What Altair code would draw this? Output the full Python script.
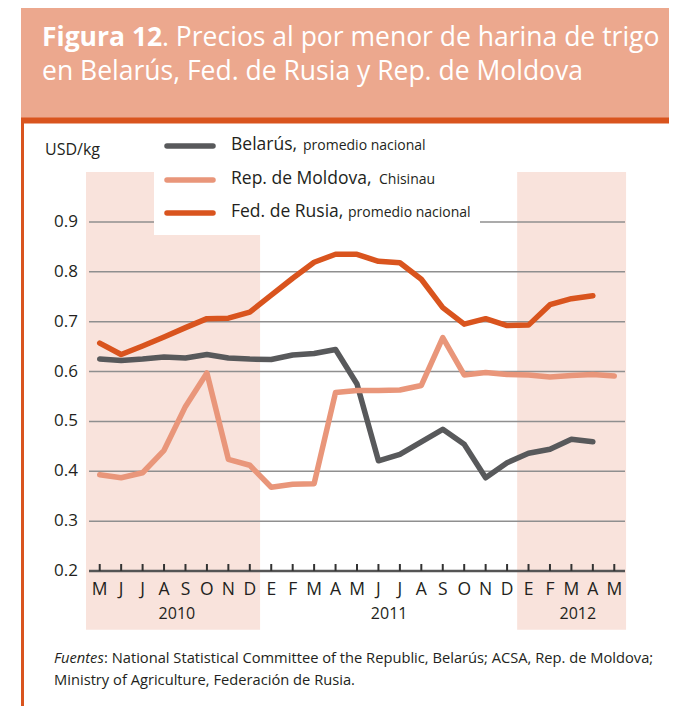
import altair as alt
import pandas as pd

FONT = "Open Sans"

months = ["M", "J", "J", "A", "S", "O", "N", "D", "E", "F", "M", "A", "M",
          "J", "J", "A", "S", "O", "N", "D", "E", "F", "M", "A", "M"]
belarus = [0.625, 0.622, 0.625, 0.629, 0.627, 0.634, 0.627, 0.625, 0.624, 0.633, 0.636, 0.644, 0.575,
           0.421, 0.434, 0.459, 0.484, 0.454, 0.387, 0.417, 0.436, 0.444, 0.464, 0.459, None]
moldova = [0.393, 0.387, 0.397, 0.442, 0.530, 0.597, 0.424, 0.412, 0.368, 0.374, 0.375, 0.558, 0.562,
           0.562, 0.563, 0.572, 0.668, 0.593, 0.598, 0.594, 0.593, 0.589, 0.592, 0.594, 0.591]
russia = [0.657, 0.634, 0.651, 0.669, 0.688, 0.706, 0.707, 0.719, 0.753, 0.787, 0.819, 0.835, 0.835,
          0.821, 0.818, 0.785, 0.728, 0.695, 0.706, 0.692, 0.693, 0.734, 0.746, 0.752, None]

series_names = ["Belarús", "Rep. de Moldova", "Fed. de Rusia"]
series_sub = ["promedio nacional", "Chisinau", "promedio nacional"]
series_colors = ["#58595b", "#e9967a", "#d9541e"]

years = ["2010", "2011", "2012"]
year_centers = [3.6, 13.5, 22.3]
band_start = [-0.64, 19.47]
band_end = [7.48, 24.55]
band_bottom = 0.082
band_top = 1.0
grid_values = [0.3, 0.4, 0.5, 0.6, 0.7, 0.8, 0.9]
y_labels = [0.2, 0.3, 0.4, 0.5, 0.6, 0.7, 0.8, 0.9]

rows = []
for name, vals in zip(series_names, [belarus, moldova, russia]):
    for i, v in enumerate(vals):
        if v is not None:
            rows.append({"i": i, "serie": name, "v": v})
df = pd.DataFrame(rows)

W, H = 536, 399
xs = alt.Scale(domain=[-0.5, 24.5], nice=False, zero=False)
ys = alt.Scale(domain=[0.2, 1.0], nice=False, zero=False)
one = pd.DataFrame({"a": [0]})
TXT = "#231f20"

# decorations: header, frame
header = alt.Chart(one).mark_rect(color="#eca88e").encode(
    x=alt.value(-68), x2=alt.value(592), y=alt.value(-170), y2=alt.value(-54))
strip = alt.Chart(one).mark_rect(color="#d9541e").encode(
    x=alt.value(-68), x2=alt.value(585), y=alt.value(-54.5), y2=alt.value(-48.5))
left_border = alt.Chart(one).mark_rect(color="#d9541e").encode(
    x=alt.value(-68), x2=alt.value(-65), y=alt.value(-49), y2=alt.value(540))
right_border = alt.Chart(one).mark_rect(color="#d9541e").encode(
    x=alt.value(582), x2=alt.value(585), y=alt.value(-49), y2=alt.value(540))

TS = 26.5
title1a = alt.Chart(one).mark_text(text="Figura 12", font=FONT, fontSize=TS, fontWeight="bold",
                                   color="white", align="left", baseline="alphabetic").encode(
    x=alt.value(-47), y=alt.value(-126))
title1b = alt.Chart(one).mark_text(text=". Precios al por menor de harina de trigo", font=FONT, fontSize=TS,
                                   color="white", align="left", baseline="alphabetic").encode(
    x=alt.value(73), y=alt.value(-126))
title2 = alt.Chart(one).mark_text(text="en Belarús, Fed. de Rusia y Rep. de Moldova", font=FONT, fontSize=TS,
                                  color="white", align="left", baseline="alphabetic").encode(
    x=alt.value(-47), y=alt.value(-92))

# shaded year bands
bands = alt.Chart(pd.DataFrame({"s": band_start, "e": band_end,
                                "b": [band_bottom] * 2, "t": [band_top] * 2})).mark_rect(
    color="#f9e3dc", clip=False).encode(
    x=alt.X("s:Q", scale=xs, axis=None), x2="e:Q",
    y=alt.Y("b:Q", scale=ys, axis=None), y2="t:Q")

grid = alt.Chart(pd.DataFrame({"v": grid_values})).mark_rule(color="#8f8f8f", strokeWidth=1.5).encode(
    y=alt.Y("v:Q", scale=ys, axis=None))

ylab = alt.Chart(pd.DataFrame({"v": y_labels, "t": [f"{v:.1f}" for v in y_labels]})).mark_text(
    font=FONT, fontSize=17, color=TXT, align="right", baseline="middle").encode(
    x=alt.value(-11), y=alt.Y("v:Q", scale=ys, axis=None), text="t:N")

axis_line = alt.Chart(pd.DataFrame({"v": [0.2]})).mark_rule(color="#555555", strokeWidth=2.5).encode(
    y=alt.Y("v:Q", scale=ys, axis=None))

mdf = pd.DataFrame({"i": list(range(len(months))), "m": months,
                    "y0": [0.2] * len(months), "y1": [0.214] * len(months)})
ticks = alt.Chart(mdf).mark_rule(color="#333333", strokeWidth=2).encode(
    x=alt.X("i:Q", scale=xs, axis=None), y=alt.Y("y0:Q", scale=ys, axis=None), y2="y1:Q")
month_labels = alt.Chart(mdf).mark_text(font=FONT, fontSize=17.5, color=TXT, baseline="middle").encode(
    x=alt.X("i:Q", scale=xs, axis=None), y=alt.value(418), text="m:N")
year_labels = alt.Chart(pd.DataFrame({"c": year_centers, "t": years})).mark_text(
    font=FONT, fontSize=16, color=TXT, baseline="middle").encode(
    x=alt.X("c:Q", scale=xs, axis=None), y=alt.value(442), text="t:N")

legend_box = alt.Chart(one).mark_rect(color="white").encode(
    x=alt.value(65), x2=alt.value(391), y=alt.value(-44), y2=alt.value(63))

lines = alt.Chart(df).mark_line(strokeWidth=5.5, strokeCap="round", strokeJoin="round").encode(
    x=alt.X("i:Q", scale=xs, axis=None),
    y=alt.Y("v:Q", scale=ys, axis=None),
    color=alt.Color("serie:N", scale=alt.Scale(domain=series_names, range=series_colors), legend=None),
    order="i:Q")

usd = alt.Chart(one).mark_text(text="USD/kg", font=FONT, fontSize=16, color=TXT, align="left",
                               baseline="middle").encode(x=alt.value(-44), y=alt.value(-22))

legend_layers = []
leg_y = [-26, 8, 41]
sub_x = [214, 290, 259]
for k in range(3):
    legend_layers.append(alt.Chart(one).mark_rule(color=series_colors[k], strokeWidth=5.5,
                                                  strokeCap="round").encode(
        x=alt.value(78), x2=alt.value(124), y=alt.value(leg_y[k])))
    legend_layers.append(alt.Chart(one).mark_text(text=series_names[k] + ",", font=FONT, fontSize=17.5,
                                                  color=TXT, align="left", baseline="middle").encode(
        x=alt.value(142), y=alt.value(leg_y[k] - 1)))
    legend_layers.append(alt.Chart(one).mark_text(text=series_sub[k], font=FONT, fontSize=14,
                                                  color=TXT, align="left", baseline="middle").encode(
        x=alt.value(sub_x[k]), y=alt.value(leg_y[k] - 0.5)))

FS = 14.7
foot1a = alt.Chart(one).mark_text(text="Fuentes", font=FONT, fontSize=FS, fontStyle="italic", color=TXT,
                                  align="left", baseline="middle").encode(x=alt.value(-35), y=alt.value(487))
foot1b = alt.Chart(one).mark_text(text=": National Statistical Committee of the Republic, Belarús; ACSA, Rep. de Moldova;",
                                  font=FONT, fontSize=FS, color=TXT, align="left", baseline="middle").encode(
    x=alt.value(15), y=alt.value(487))
foot2 = alt.Chart(one).mark_text(text="Ministry of Agriculture, Federación de Rusia.", font=FONT, fontSize=FS,
                                 color=TXT, align="left", baseline="middle").encode(
    x=alt.value(-35), y=alt.value(509))

chart = alt.layer(
    header, strip, left_border, right_border, title1a, title1b, title2,
    bands, grid, ylab, axis_line, ticks, month_labels, year_labels,
    legend_box, lines, usd, *legend_layers, foot1a, foot1b, foot2
).properties(
    width=W, height=H,
    autosize=alt.AutoSizeParams(type="none"),
    padding={"left": 81, "top": 164, "right": 44, "bottom": 135},
    background="white"
).configure_view(stroke=None)

chart.save("out.html", embed_options={"renderer": "svg", "actions": False})
